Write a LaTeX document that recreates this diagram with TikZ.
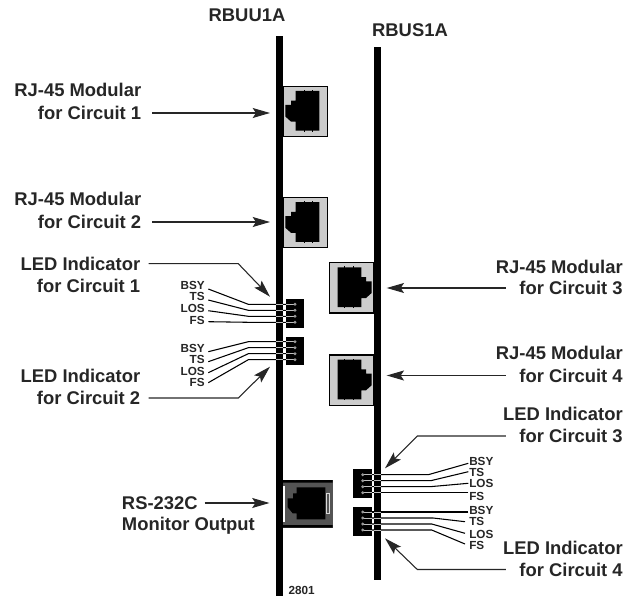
\documentclass[tikz,border=0pt]{standalone}
\usepackage{fontspec}
\setmainfont{Liberation Sans}
\usetikzlibrary{arrows.meta}
\tikzset{
  lbl/.style={font=\fontsize{13.8}{15}\selectfont\bfseries,inner sep=0pt,text height=10pt,text depth=0pt,text=black!85},
  small/.style={font=\fontsize{8.8}{10}\selectfont\bfseries,inner sep=0pt,text height=6.4pt,text depth=0pt,text=black!85},
  arw/.style={draw=black!85,line width=.8pt,-{Stealth[length=13pt,width=7.5pt,inset=2.5pt]}},
  lead/.style={draw=black,line width=.8pt},
  lit/.style={draw=black!25,line width=.6pt},
  dot/.style={fill=black!40},
  jack/.style={draw=black,line width=.8pt,fill=black!20},
}
\begin{document}
\begin{tikzpicture}[x=.75pt,y=-.75pt]
\useasboundingbox (0,0) rectangle (625,599);
% boards
\fill(275.8,36)rectangle(283,596);\fill(374,47)rectangle(381.3,580);
\node[lbl](rbuu)at(247,15){RBUU1A};\node[lbl](rbus)at(410,30){RBUS1A};
% RJ-45 jacks
\foreach\n/\p/\s in {a/{283.7,86.3}/1,b/{283.7,197.5}/1,c/{373.3,262.7}/-1,d/{373.3,355}/-1}{
\begin{scope}[shift={(\p)},xscale=\s]\draw[jack](0,0)rectangle(43.7,50.3);
\fill(1.7,18.7)--(7.3,18.7)--(7.3,14.3)--(12,14.3)--(12,4.7)--(35.7,4.7)--(35.7,44.3)--(12,44.3)--(12,35.3)--(7.3,35.3)--(1.7,30.3)--cycle;
\foreach\x in {20.3,29}{\fill(\x-.4,3.6)rectangle(\x+.4,45.4);}\end{scope}}
% RS-232C jack
\begin{scope}[shift={(283,480)}]\fill[black!67](0,0)rectangle(49.7,47.7);\fill(0,0)rectangle(49.7,2.7)(0,45)rectangle(49.7,47.7);
\fill[white](.3,6)rectangle(2,41.7);
\fill(4.7,18.3)--(10,18.3)--(10,13.3)--(13.7,13.3)--(13.7,7.3)--(42.3,7.3)--(42.3,39.3)--(13.7,39.3)--(13.7,33.3)--(9.7,33.3)--(4.7,27.3)--cycle;
\draw[black!15,line width=.4pt](43.5,13.5)rectangle(45.8,33.3);\end{scope}
% LED blocks
\foreach\x/\y/\w in {286/299.3/18,286/336.7/18,353.3/469.3/19,353.3/507.3/19}\fill(\x,\y)rectangle(\x+\w,\y+28.4);
% leads of circuit 1 and 2
\foreach\n/\t/\ly/\sy/\dy in {p/BSY/285.7/289/304.3,q/TS/296.7/300/310.3,r/LOS/308.7/310.7/316.3,s/FS/320/321.7/322.3,t/BSY/348.7/351.7/341.7,u/TS/359.7/361.7/347.7,v/LOS/371.7/372.7/353.7,w/FS/382.7/382.7/359.7}{
\node[small,anchor=east](l\n)at(205,\ly){\t};\coordinate(s\n)at(208.3,\sy);\coordinate(e\n)at(248.3,\dy);\coordinate(d\n)at(295,\dy);
\draw[lead](s\n)--(e\n)--(d\n);\draw[lit](275.8,\dy)--(283,\dy)(286,\dy)--(d\n);\fill[dot](d\n)circle(1.6);}
% leads of circuit 3 and 4
\foreach\n/\t/\ly/\sx/\sy/\ex/\dy in {f/BSY/461.7/468.3/463.3/428.3/474.7,g/TS/472.7/468.3/471.7/430.7/480.7,h/LOS/483.7/468.3/483.3/430/486.7,i/FS/496/468.3/492.7/430/492.7,j/BSY/510.7/468.3/512/430/512,k/TS/521.7/465/521.7/433/518,m/LOS/534.3/465/533.3/431.7/524,o/FS/545.7/465/544/431.7/530}{
\node[small,anchor=west](l\n)at(469,\ly){\t};\coordinate(s\n)at(\sx,\sy);\coordinate(e\n)at(\ex,\dy);\coordinate(d\n)at(362.7,\dy);
\draw[lead](s\n)--(e\n)--(d\n);\draw[lit](374,\dy)--(381.3,\dy)(372.3,\dy)--(d\n);\fill[dot](d\n)circle(1.6);}
% labels and arrows, left side
\node[lbl,anchor=east](jaa)at(141.5,90){RJ-45 Modular};\node[lbl,anchor=east](jab)at(141.5,113){for Circuit 1};
\node[lbl,anchor=east](jba)at(141.5,199){RJ-45 Modular};\node[lbl,anchor=east](jbb)at(141.5,222){for Circuit 2};
\node[lbl,anchor=east](lea)at(140.5,263.7){LED Indicator};\node[lbl,anchor=east](leb)at(140.5,286){for Circuit 1};
\node[lbl,anchor=east](lfa)at(140.5,375.7){LED Indicator};\node[lbl,anchor=east](lfb)at(140.5,398){for Circuit 2};
\node[lbl,anchor=west](rsa)at(121.7,503){RS-232C};\node[lbl,anchor=west](rsb)at(121.7,524){Monitor Output};
\coordinate(ta)at(270,113);\coordinate(tb)at(270,222);\coordinate(tc)at(270,296.7);\coordinate(td)at(270,366.7);\coordinate(te)at(269.5,503);
\coordinate(ec)at(238.3,263.7);\coordinate(ed)at(238.3,398);
\draw[arw,shorten <=8pt](jab.east)--(ta);\draw[arw,shorten <=8pt](jbb.east)--(tb);
\draw[arw,shorten <=6pt](lea.east)--(ec)--(tc);\draw[arw,shorten <=6pt](lfb.east)--(ed)--(td);
\draw[arw,shorten <=5pt](rsa.east)--(te);
% labels and arrows, right side
\node[lbl,anchor=east](jca)at(623,267){RJ-45 Modular};\node[lbl,anchor=east](jcb)at(623,288){for Circuit 3};
\node[lbl,anchor=east](jda)at(623,353.3){RJ-45 Modular};\node[lbl,anchor=east](jdb)at(623,375.5){for Circuit 4};
\node[lbl,anchor=east](lga)at(623,414){LED Indicator};\node[lbl,anchor=east](lgb)at(623,436){for Circuit 3};
\node[lbl,anchor=east](lha)at(623,548.3){LED Indicator};\node[lbl,anchor=east](lhb)at(623,569.5){for Circuit 4};
\coordinate(tf)at(386.7,288);\coordinate(tg)at(386.7,375.5);\coordinate(th)at(385,468.3);\coordinate(ti)at(385,538.3);
\coordinate(eg)at(417.3,436);\coordinate(eh)at(417.3,569.5);
\draw[arw,shorten <=10pt](jcb.west)--(tf);\draw[arw,shorten <=10pt](jdb.west)--(tg);
\draw[arw,shorten <=10pt](lgb.west)--(eg)--(th);\draw[arw,shorten <=10pt](lhb.west)--(eh)--(ti);
\node[small](num)at(301.7,590){2801};
\end{tikzpicture}
\end{document}
